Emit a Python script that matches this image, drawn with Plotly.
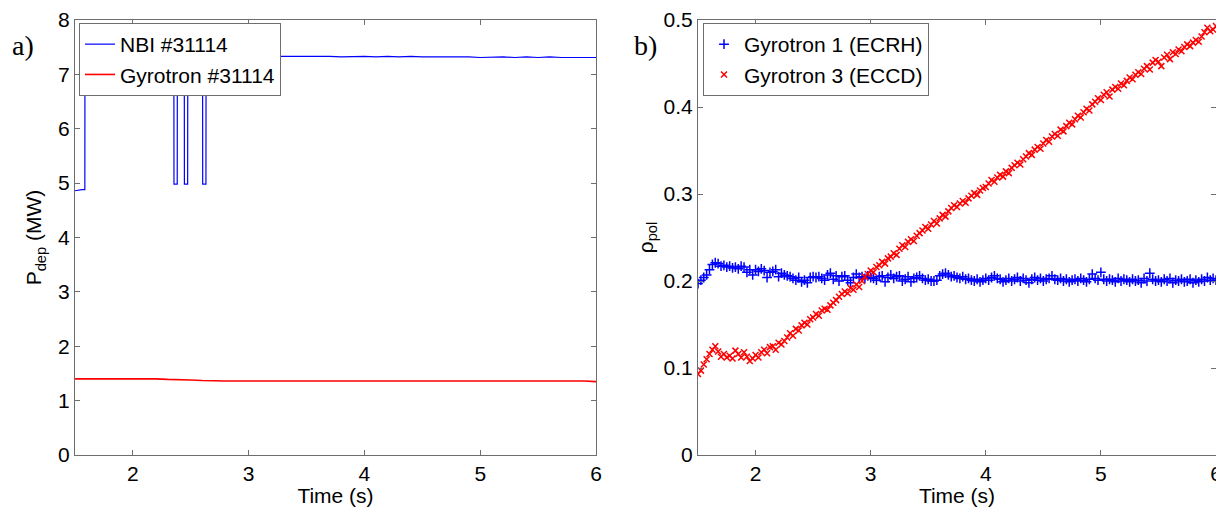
import plotly.graph_objects as go

# ---------------- Panel a) data ----------------
nbi_t = [1.50, 1.52, 1.54, 1.56, 1.585, 1.586, 1.80, 2.00, 2.20, 2.354, 2.355, 2.383, 2.384,
         2.444, 2.445, 2.473, 2.474, 2.602, 2.603, 2.631, 2.632, 2.80, 3.00, 3.10, 3.20,
         3.30, 3.40, 3.50, 3.60, 3.70, 3.80, 3.90, 4.00, 4.10, 4.20, 4.30, 4.40, 4.50,
         4.60, 4.70, 4.80, 4.90, 5.00, 5.10, 5.20, 5.30, 5.40, 5.50, 5.60, 5.70, 5.80,
         5.90, 6.00]
nbi_p = [4.86, 4.87, 4.87, 4.88, 4.88, 7.33, 7.33, 7.33, 7.33, 7.33, 4.98, 4.98, 7.33,
         7.33, 4.98, 4.98, 7.33, 7.33, 4.98, 4.98, 7.33, 7.33, 7.33, 7.34, 7.33,
         7.34, 7.33, 7.33, 7.34, 7.33, 7.32, 7.33, 7.33, 7.32, 7.33, 7.32, 7.33, 7.32,
         7.32, 7.33, 7.32, 7.32, 7.31, 7.32, 7.32, 7.31, 7.32, 7.31, 7.32, 7.31, 7.31,
         7.32, 7.31]

gyr_t = [1.50, 1.60, 1.70, 1.80, 1.90, 2.00, 2.10, 2.20, 2.30, 2.40, 2.50, 2.60, 2.70,
         2.80, 2.90, 3.00, 3.10, 3.20, 3.30, 3.40, 3.50, 3.60, 3.70, 3.80, 3.90, 4.00,
         4.10, 4.20, 4.30, 4.40, 4.50, 4.60, 4.70, 4.80, 4.90, 5.00, 5.10, 5.20, 5.30,
         5.40, 5.50, 5.60, 5.70, 5.80, 5.90, 6.00]
gyr_p = [1.40, 1.40, 1.41, 1.40, 1.40, 1.41, 1.40, 1.40, 1.39, 1.39, 1.38, 1.37, 1.36,
         1.36, 1.36, 1.36, 1.36, 1.37, 1.36, 1.36, 1.37, 1.36, 1.37, 1.37, 1.36, 1.37,
         1.37, 1.36, 1.37, 1.36, 1.36, 1.37, 1.36, 1.36, 1.37, 1.36, 1.36, 1.37, 1.36,
         1.36, 1.36, 1.37, 1.36, 1.36, 1.36, 1.35]

# ---------------- Panel b) data ----------------
rho_t = [round(1.5 + 0.025 * i, 3) for i in range(181)]
rho_g1 = [
    0.197, 0.201, 0.204, 0.207, 0.213, 0.219, 0.221, 0.220, 0.217, 0.218,
    0.216, 0.217, 0.215, 0.216, 0.214, 0.217, 0.216, 0.210, 0.213, 0.207,
    0.213, 0.211, 0.214, 0.212, 0.204, 0.210, 0.211, 0.213, 0.205, 0.209,
    0.207, 0.206, 0.205, 0.203, 0.201, 0.204, 0.199, 0.201, 0.198, 0.204,
    0.205, 0.204, 0.205, 0.203, 0.201, 0.207, 0.209, 0.202, 0.206, 0.200,
    0.205, 0.206, 0.201, 0.198, 0.204, 0.208, 0.204, 0.205, 0.203, 0.206,
    0.204, 0.203, 0.201, 0.205, 0.206, 0.199, 0.204, 0.207, 0.203, 0.205,
    0.206, 0.200, 0.202, 0.205, 0.199, 0.203, 0.204, 0.206, 0.203, 0.201,
    0.202, 0.200, 0.200, 0.201, 0.206, 0.208, 0.209, 0.207, 0.205, 0.206,
    0.204, 0.203, 0.205, 0.202, 0.203, 0.201, 0.200, 0.202, 0.199, 0.201,
    0.203, 0.201, 0.204, 0.206, 0.203, 0.202, 0.199, 0.201, 0.203, 0.200,
    0.202, 0.204, 0.200, 0.203, 0.201, 0.198, 0.202, 0.204, 0.201, 0.203,
    0.200, 0.202, 0.203, 0.206, 0.202, 0.201, 0.203, 0.200, 0.202, 0.199,
    0.201, 0.202, 0.200, 0.203, 0.201, 0.199, 0.202, 0.208, 0.203, 0.201,
    0.210, 0.202, 0.200, 0.202, 0.201, 0.199, 0.203, 0.200, 0.202, 0.201,
    0.199, 0.202, 0.200, 0.201, 0.198, 0.203, 0.200, 0.209, 0.202, 0.200,
    0.201, 0.199, 0.202, 0.200, 0.203, 0.198, 0.201, 0.200, 0.202, 0.199,
    0.200, 0.202, 0.198, 0.201, 0.199, 0.202, 0.200, 0.204, 0.201, 0.203,
    0.201]
rho_g3 = [
    0.093, 0.097, 0.104, 0.110, 0.116, 0.121, 0.125, 0.119, 0.113, 0.116,
    0.112, 0.114, 0.111, 0.120, 0.116, 0.112, 0.118, 0.113, 0.108, 0.111,
    0.115, 0.112, 0.118, 0.121, 0.117, 0.124, 0.125, 0.121, 0.129, 0.127,
    0.131, 0.135, 0.140, 0.137, 0.145, 0.143, 0.149, 0.152, 0.150, 0.156,
    0.158, 0.162, 0.160, 0.166, 0.168, 0.167, 0.172, 0.175, 0.178, 0.182,
    0.185, 0.188, 0.186, 0.192, 0.190, 0.196, 0.193, 0.200, 0.205, 0.208,
    0.212, 0.210, 0.216, 0.218, 0.222, 0.220, 0.226, 0.228, 0.232, 0.230,
    0.237, 0.241, 0.239, 0.245, 0.248, 0.246, 0.252, 0.255, 0.258, 0.262,
    0.260, 0.265, 0.269, 0.266, 0.272, 0.276, 0.274, 0.280, 0.284, 0.287,
    0.285, 0.289, 0.292, 0.290, 0.295, 0.298, 0.301, 0.299, 0.304, 0.307,
    0.308, 0.312, 0.316, 0.314, 0.319, 0.322, 0.320, 0.326, 0.324, 0.330,
    0.333, 0.336, 0.334, 0.340, 0.343, 0.347, 0.345, 0.351, 0.354, 0.352,
    0.358, 0.362, 0.360, 0.366, 0.369, 0.367, 0.374, 0.372, 0.378, 0.382,
    0.380, 0.386, 0.390, 0.388, 0.394, 0.398, 0.396, 0.403, 0.406, 0.410,
    0.408, 0.414, 0.417, 0.412, 0.420, 0.423, 0.421, 0.427, 0.425, 0.430,
    0.434, 0.432, 0.437, 0.440, 0.438, 0.444, 0.447, 0.443, 0.451, 0.454,
    0.452, 0.447, 0.457, 0.460, 0.455, 0.463, 0.461, 0.466, 0.464, 0.469,
    0.472, 0.470, 0.474, 0.477, 0.475, 0.481, 0.486, 0.491, 0.487, 0.489,
    0.493]

x_ticks = [2, 3, 4, 5, 6]
ya_ticks = [0, 1, 2, 3, 4, 5, 6, 7, 8]
yb_ticks = [0, 0.1, 0.2, 0.3, 0.4, 0.5]
yb_text = ["0", "0.1", "0.2", "0.3", "0.4", "0.5"]

FONT = "Liberation Sans, Arial, Helvetica, sans-serif"
FS = 21
AXC = "#6e6e6e"
OFF = 8                      # page body margin offset
W, H = 1224 - OFF, 507 - OFF
ML = 75 - OFF
MT = 20 - OFF
MB = H - (455 - OFF)
MR = W - (1216 - OFF)
PW, PH = W - ML - MR, H - MT - MB


def px_x(px):
    return (px - OFF - ML) / PW


def px_y(py):
    return (H - MB - (py - OFF)) / PH


fig = go.Figure()
fig.add_trace(go.Scatter(x=nbi_t, y=nbi_p, mode="lines", name="NBI #31114",
                         line=dict(color="#0000ff", width=1.2), xaxis="x", yaxis="y",
                         legend="legend"))
fig.add_trace(go.Scatter(x=gyr_t, y=gyr_p, mode="lines", name="Gyrotron #31114",
                         line=dict(color="#ff0000", width=1.6), xaxis="x", yaxis="y",
                         legend="legend"))
fig.add_trace(go.Scatter(x=rho_t, y=rho_g1, mode="markers", name="Gyrotron 1 (ECRH)",
                         marker=dict(symbol="cross-thin", size=7, color="#0000ff",
                                     line=dict(color="#0000ff", width=1.5)),
                         xaxis="x2", yaxis="y2", legend="legend2"))
fig.add_trace(go.Scatter(x=rho_t, y=rho_g3, mode="markers", name="Gyrotron 3 (ECCD)",
                         marker=dict(symbol="x-thin", size=6, color="#ff0000",
                                     line=dict(color="#ff0000", width=1.5)),
                         xaxis="x2", yaxis="y2", legend="legend2"))

tfont = dict(family=FONT, size=FS, color="#000")
common_x = dict(range=[1.5, 6], tickvals=x_ticks, ticks="inside", ticklen=5,
                tickcolor=AXC, showline=True, linecolor=AXC, linewidth=1, mirror="ticks",
                showgrid=False, zeroline=False, automargin=False,
                ticklabeloverflow="allow", tickfont=tfont,
                title=dict(text="Time (s)", font=tfont, standoff=2))
common_y = dict(ticks="inside", ticklen=5, tickcolor=AXC, showline=True, linecolor=AXC,
                linewidth=1, mirror="ticks", showgrid=False, zeroline=False,
                automargin=False, tickfont=tfont, domain=[0, 1])

fig.update_layout(
    width=W, height=H, margin=dict(l=ML, r=MR, t=MT, b=MB),
    paper_bgcolor="white", plot_bgcolor="white",
    xaxis=dict(domain=[0, px_x(596)], anchor="y", **common_x),
    yaxis=dict(range=[0, 8], tickvals=ya_ticks, anchor="x",
               title=dict(text="P<sub>dep</sub> (MW)", font=tfont, standoff=10),
               **common_y),
    xaxis2=dict(domain=[px_x(698), 1], anchor="y2", **common_x),
    yaxis2=dict(range=[0, 0.5], tickvals=yb_ticks, ticktext=yb_text, anchor="x2",
                title=dict(text="ρ<sub>pol</sub>", font=tfont, standoff=4),
                **common_y),
    legend=dict(x=px_x(79), y=px_y(23), xanchor="left", yanchor="top",
                bgcolor="white", bordercolor=AXC, borderwidth=1,
                font=tfont, itemwidth=30, tracegroupgap=0),
    legend2=dict(x=px_x(703), y=px_y(23), xanchor="left", yanchor="top",
                 bgcolor="white", bordercolor=AXC, borderwidth=1,
                 font=tfont, itemwidth=30, tracegroupgap=0),
    showlegend=True,
)

sfont = dict(family="Liberation Serif, DejaVu Serif, serif", size=28, color="#000")
fig.add_annotation(text="a)", x=px_x(10), y=px_y(45), xref="paper", yref="paper",
                   xanchor="left", yanchor="middle", showarrow=False, font=sfont)
fig.add_annotation(text="b)", x=px_x(632), y=px_y(45), xref="paper", yref="paper",
                   xanchor="left", yanchor="middle", showarrow=False, font=sfont)

fig.write_html("out.html")
